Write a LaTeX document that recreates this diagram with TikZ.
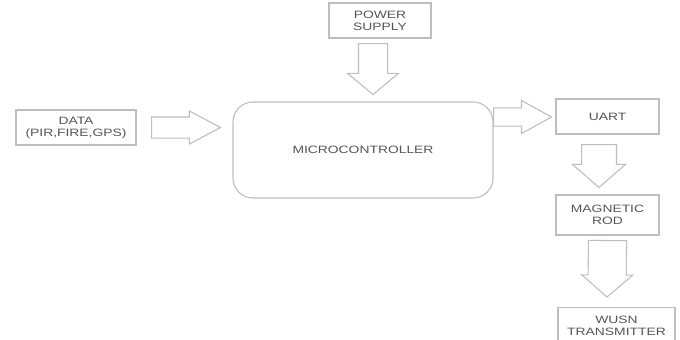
\documentclass[tikz,border=0pt]{standalone}
\usepackage{fontspec}
\newfontfamily\blkfont[FakeStretch=1.3]{Liberation Sans}
\usepackage{tikz}
\usetikzlibrary{calc}
\definecolor{edgegray}{RGB}{190,190,190}
\definecolor{txtgray}{RGB}{85,85,85}
\tikzset{
  blk/.style={rectangle, draw=edgegray, line width=0.8pt, fill=white, align=center,
    font=\blkfont\fontsize{8}{9}\selectfont, text=txtgray, inner sep=0pt},
  mcu/.style={blk, rounded corners=15pt},
  % hollow block arrow: #1 shaft half width, #2 head half width, #3 head length
  barr/.style n args={3}{draw=edgegray, line width=0.8pt, line join=miter,
    to path={($(\tikztostart)!#1!90:(\tikztotarget)$)
      -- ($(\tikztotarget)!#3!(\tikztostart)!#1!-90:(\tikztostart)$)
      -- ($(\tikztotarget)!#3!(\tikztostart)!#2!-90:(\tikztostart)$)
      -- (\tikztotarget)
      -- ($(\tikztotarget)!#3!(\tikztostart)!#2!90:(\tikztostart)$)
      -- ($(\tikztotarget)!#3!(\tikztostart)!#1!90:(\tikztostart)$)
      -- ($(\tikztostart)!#1!-90:(\tikztotarget)$) -- cycle}}
}

\begin{document}
\begin{tikzpicture}[x=0.75pt, y=-0.75pt]
  \useasboundingbox[fill=white] (0,0) rectangle (680,339);
  \begin{scope}
    \clip (0,0) rectangle (680,339);
    \node[blk, minimum width=90pt, minimum height=26.25pt] (data) at (76,127.5) {DATA\\(PIR,FIRE,GPS)};
    \node[blk, minimum width=76.5pt, minimum height=26.25pt] (ps) at (380,20.5) {POWER\\SUPPLY};
    \node[mcu, minimum width=195pt, minimum height=72pt] (mc) at (363,150) {MICROCONTROLLER};
    \node[blk, minimum width=77.25pt, minimum height=26.25pt] (uart) at (607.5,116.5) {UART};
    \node[blk, minimum width=77.25pt, minimum height=30pt] (mag) at (607.5,215) {MAGNETIC\\ROD};
    \node[blk, minimum width=87.75pt, minimum height=27pt, anchor=north] (wusn) at (616.5,307) {WUSN\\TRANSMITTER};
    \draw[barr={7.9pt}{12.4pt}{23.3pt}] ([xshift=15pt*0.75]data.east) to ([shift={(-12,-22.5)}]mc.west);
    \draw[barr={10.9pt}{19.1pt}{15.8pt}] ([shift={(-7,5)}]ps.south) to ([shift={(10,-7)}]mc.north);
    \draw[barr={6.8pt}{12.4pt}{22.5pt}] ([shift={(0,-33)}]mc.east) to ([shift={(-4,0.5)}]uart.west);
    \draw[barr={13.1pt}{19.9pt}{17.3pt}] ([shift={(-8.5,10)}]uart.south) to ([shift={(-8.5,-7)}]mag.north);
    \draw[barr={14.3pt}{19.1pt}{16.5pt}] ([shift={(0,5)}]mag.south) to ([shift={(-9.5,-10)}]wusn.north);
  \end{scope}
\end{tikzpicture}
\end{document}
